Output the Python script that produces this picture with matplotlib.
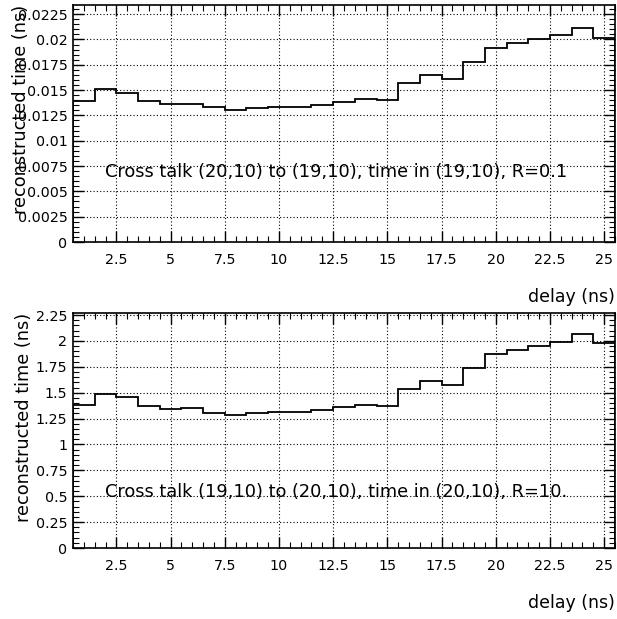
import numpy as np
import matplotlib
matplotlib.use("Agg")
import matplotlib.pyplot as plt
from matplotlib.ticker import MultipleLocator, AutoMinorLocator, FormatStrFormatter

plt.rcParams['font.family'] = ['DejaVu Sans']

# bins: delay 1..25 ns, width 1
delay_edges = np.arange(0.5, 25.51, 1.0)

time_R01 = [0.01396, 0.01512, 0.01475, 0.01393, 0.01360, 0.01367, 0.01334, 0.01307,
            0.01324, 0.01331, 0.01337, 0.01350, 0.01386, 0.01410, 0.01400, 0.01574,
            0.01650, 0.01610, 0.01776, 0.01920, 0.01966, 0.02006, 0.02048, 0.02111,
            0.02019]
time_R10 = [1.377, 1.489, 1.454, 1.368, 1.342, 1.348, 1.306, 1.281, 1.300, 1.309,
            1.313, 1.329, 1.358, 1.380, 1.368, 1.538, 1.615, 1.573, 1.734, 1.873,
            1.914, 1.956, 1.991, 2.063, 1.982]

texts = ["Cross talk (20,10) to (19,10), time in (19,10), R=0.1",
         "Cross talk (19,10) to (20,10), time in (20,10), R=10."]
xlabel = "delay (ns)"
ylabel = "reconstructed time (ns)"

fig = plt.figure(figsize=(6.17, 6.19), dpi=100)
W, H = 617, 619

def make_ax(top, bottom):
    return fig.add_axes([73 / W, (H - bottom) / H, 542 / W, (bottom - top) / H])

ax1 = make_ax(5, 242)
ax2 = make_ax(313, 548)

configs = [
    (ax1, time_R01, 0.0234, 0.0025, texts[0], 0.0069),
    (ax2, time_R10, 2.27, 0.25, texts[1], 0.54),
]

for ax, vals, ymax, ystep, txt, ty in configs:
    ax.stairs(vals, delay_edges, color='black', linewidth=1.3)
    ax.set_xlim(0.5, 25.5)
    ax.set_ylim(0, ymax)
    ax.xaxis.set_major_locator(MultipleLocator(2.5))
    ax.xaxis.set_minor_locator(AutoMinorLocator(5))
    ax.yaxis.set_major_locator(MultipleLocator(ystep))
    ax.yaxis.set_minor_locator(AutoMinorLocator(5))
    ax.xaxis.set_major_formatter(FormatStrFormatter('%g'))
    ax.yaxis.set_major_formatter(FormatStrFormatter('%g'))
    ax.tick_params(which='both', direction='in', top=True, right=True,
                   labelsize=10.3, colors='black')
    ax.tick_params(which='major', length=8, width=1)
    ax.tick_params(which='minor', length=4, width=0.8)
    ax.tick_params(axis='x', pad=8)
    ax.tick_params(axis='y', pad=4)
    ax.grid(True, which='major', color='black', linestyle=(0, (1, 2)), linewidth=0.8)
    for s in ax.spines.values():
        s.set_linewidth(1.2)
    ax.text(1.98, ty, txt, fontsize=12.8, va='center', ha='left')
    ax.set_xlabel(xlabel, fontsize=12.5, loc='right', labelpad=15)
    ax.set_ylabel(ylabel, fontsize=12.8, loc='top')

ax1.yaxis.set_label_coords(-(73 - 30) / 542, 1.0)
ax2.yaxis.set_label_coords(-(73 - 33) / 542, 1.0)

fig.savefig("out.png", dpi=100)
